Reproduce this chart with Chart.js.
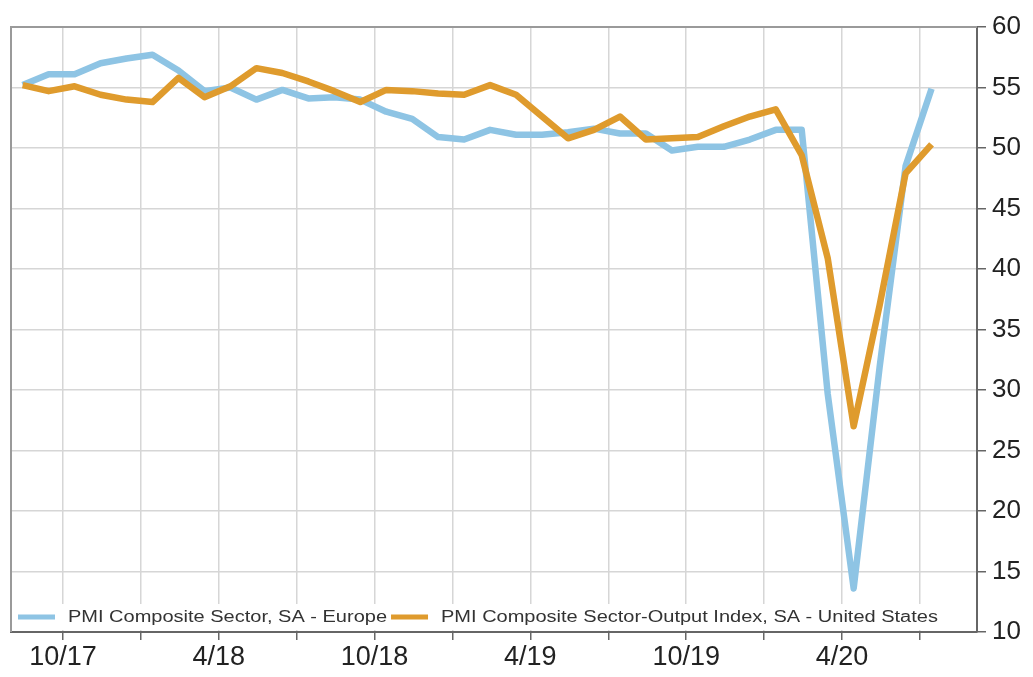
<!DOCTYPE html>
<html>
<head>
<meta charset="utf-8">
<script src="https://cdn.jsdelivr.net/npm/chart.js@4.4.1/dist/chart.umd.min.js"></script>
<style>
  html, body { margin: 0; padding: 0; background: #fff; }
  #wrap { width: 1033px; height: 677px; position: relative; }
</style>
</head>
<body>
<div id="wrap"><canvas id="pmi-chart"></canvas></div>
<script>
// monthly readings, Aug 2017 - Jul 2020
const months = [
  '8/17', '9/17', '10/17', '11/17', '12/17',
  '1/18', '2/18', '3/18', '4/18', '5/18', '6/18', '7/18', '8/18', '9/18', '10/18', '11/18', '12/18',
  '1/19', '2/19', '3/19', '4/19', '5/19', '6/19', '7/19', '8/19', '9/19', '10/19', '11/19', '12/19',
  '1/20', '2/20', '3/20', '4/20', '5/20', '6/20', '7/20'
];
const europe = [
  55.2, 56.1, 56.1, 57.0, 57.4,
  57.7, 56.4, 54.7, 55.0, 54.0, 54.8, 54.1, 54.2, 54.0, 53.0, 52.4, 50.9,
  50.7, 51.5, 51.1, 51.1, 51.3, 51.6, 51.2, 51.2, 49.8, 50.1, 50.1, 50.7,
  51.5, 51.5, 29.7, 13.6, 31.9, 48.5, 54.9
];
const unitedStates = [
  55.2, 54.7, 55.1, 54.4, 54.0,
  53.8, 55.8, 54.2, 55.1, 56.6, 56.2, 55.5, 54.7, 53.8, 54.8, 54.7, 54.5,
  54.4, 55.2, 54.4, 52.6, 50.8, 51.5, 52.6, 50.7, 50.8, 50.9, 51.8, 52.6,
  53.2, 49.4, 40.9, 27.0, 37.0, 47.9, 50.3
];
const seriesNames = [
  'PMI Composite Sector, SA - Europe',
  'PMI Composite Sector-Output Index, SA - United States'
];
// quarterly grid lines, labels every six months
const quarterTicks = ['10/17', '1/18', '4/18', '7/18', '10/18', '1/19', '4/19', '7/19', '10/19', '1/20', '4/20', '7/20'];
const labelledTicks = ['10/17', '4/18', '10/18', '4/19', '10/19', '4/20'];
const yTicks = [10, 15, 20, 25, 30, 35, 40, 45, 50, 55, 60];

const blue = '#8ec4e4';
const orange = '#df9b2d';
const font = "'Liberation Sans', Arial, sans-serif";

// month offset from the start of Aug 2017
const monthIndex = (label) => {
    const [m, yy] = label.split('/').map(Number);
    return (yy - 17) * 12 + (m - 8);
};
const toPoints = (values) => values.map((v, i) => ({ x: monthIndex(months[i]) + 0.45, y: v }));

// legend drawn inside the plot, along the bottom
const insideLegend = {
    id: 'insideLegend',
    afterDraw(chart) {
        const { ctx, chartArea } = chart;
        const stretch = 1.25;
        ctx.save();
        ctx.font = `16px ${font}`;
        const y = chartArea.bottom - 15;
        let x = chartArea.left + 7;
        const widths = seriesNames.map(n => ctx.measureText(n).width * stretch);
        const total = 7 + widths[0] + widths[1] + 2 * (37 + 13) + 4;
        ctx.fillStyle = '#ffffff';
        ctx.fillRect(chartArea.left + 2, y - 13, total, 26);
        chart.data.datasets.forEach((ds, i) => {
            ctx.strokeStyle = ds.borderColor;
            ctx.lineWidth = 5;
            ctx.beginPath();
            ctx.moveTo(x, y);
            ctx.lineTo(x + 37, y);
            ctx.stroke();
            x += 37 + 13;
            ctx.save();
            ctx.translate(x, y);
            ctx.scale(stretch, 1);
            ctx.fillStyle = '#333';
            ctx.textBaseline = 'middle';
            ctx.fillText(seriesNames[i], 0, 1);
            ctx.restore();
            x += widths[i] + 4;
        });
        // frame: top and left edges
        ctx.strokeStyle = '#9a9a9a';
        ctx.lineWidth = 2;
        ctx.beginPath();
        ctx.moveTo(chartArea.left, chartArea.bottom);
        ctx.lineTo(chartArea.left, chartArea.top);
        ctx.lineTo(chartArea.right, chartArea.top);
        ctx.stroke();
        ctx.restore();
    }
};

const ctx = document.getElementById('pmi-chart').getContext('2d');
new Chart(ctx, {
    type: 'line',
    data: {
        datasets: [
            {
                label: seriesNames[0],
                data: toPoints(europe),
                borderColor: blue,
                borderWidth: 6.5,
                borderJoinStyle: 'round',
                pointRadius: 0,
                tension: 0,
                order: 1
            },
            {
                label: seriesNames[1],
                data: toPoints(unitedStates),
                borderColor: orange,
                borderWidth: 6.5,
                borderJoinStyle: 'round',
                pointRadius: 0,
                tension: 0,
                order: 0
            }
        ]
    },
    options: {
        responsive: true,
        maintainAspectRatio: false,
        animation: false,
        layout: { padding: { left: 11, top: 27, right: 0, bottom: 0 } },
        plugins: {
            legend: { display: false },
            tooltip: { enabled: false }
        },
        scales: {
            x: {
                type: 'linear',
                min: 0,
                max: 37.2,
                afterBuildTicks: (scale) => {
                    scale.ticks = quarterTicks.map(t => ({ value: monthIndex(t) }));
                },
                afterFit: (scale) => { scale.height = 45; },
                grid: {
                    color: '#d6d6d6',
                    lineWidth: 1.5,
                    tickColor: '#666',
                    tickLength: 8,
                    tickWidth: 1.5
                },
                border: { color: '#666', width: 2 },
                ticks: {
                    autoSkip: false,
                    maxRotation: 0,
                    padding: 1,
                    color: '#222',
                    font: { family: font, size: 27 },
                    callback: (value) => {
                        const t = labelledTicks.find(l => monthIndex(l) === value);
                        return t || '';
                    }
                }
            },
            y: {
                position: 'right',
                min: 10,
                max: 60,
                afterBuildTicks: (scale) => {
                    scale.ticks = yTicks.map(v => ({ value: v }));
                },
                afterFit: (scale) => { scale.width = 56; },
                grid: {
                    color: '#d6d6d6',
                    lineWidth: 1.5,
                    tickColor: '#666',
                    tickLength: 9,
                    tickWidth: 1.5
                },
                border: { color: '#666', width: 2 },
                ticks: {
                    padding: 6,
                    color: '#222',
                    font: { family: font, size: 26 }
                }
            }
        }
    },
    plugins: [insideLegend]
});
</script>
</body>
</html>
